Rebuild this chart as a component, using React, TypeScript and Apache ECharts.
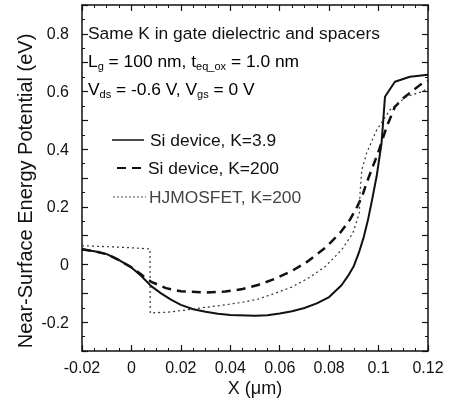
import React, { useEffect, useRef } from "react";
import * as echarts from "echarts";

const FONT = "'Liberation Sans', Arial, Helvetica, sans-serif";

// Si device, K=3.9 (solid)
const siK39: [number, number][] = [
  [-0.02, 0.053], [-0.015, 0.046], [-0.01, 0.036], [-0.005, 0.015], [0, -0.01],
  [0.004, -0.04], [0.008, -0.075], [0.012, -0.1], [0.016, -0.122], [0.02, -0.14],
  [0.025, -0.155], [0.03, -0.164], [0.035, -0.171], [0.04, -0.175], [0.05, -0.178],
  [0.055, -0.176], [0.06, -0.17], [0.065, -0.162], [0.07, -0.151], [0.075, -0.135],
  [0.08, -0.113], [0.085, -0.072], [0.088, -0.035], [0.09, -0.005], [0.092, 0.04],
  [0.094, 0.095], [0.0957, 0.154], [0.0975, 0.23], [0.0992, 0.305], [0.1012, 0.42],
  [0.1026, 0.582], [0.1066, 0.634], [0.1127, 0.651], [0.12, 0.658],
];

// Si device, K=200 (dashed)
const siK200: [number, number][] = [
  [-0.02, 0.053], [-0.015, 0.046], [-0.01, 0.036], [-0.005, 0.015], [0, -0.01],
  [0.004, -0.035], [0.008, -0.06], [0.014, -0.082], [0.02, -0.093], [0.03, -0.097],
  [0.038, -0.094], [0.045, -0.085], [0.0512, -0.071], [0.058, -0.05], [0.065, -0.022],
  [0.071, 0.009], [0.0783, 0.057], [0.0844, 0.109], [0.0884, 0.155], [0.0913, 0.2],
  [0.0933, 0.235], [0.0951, 0.282], [0.0998, 0.387], [0.1033, 0.478], [0.1066, 0.547],
  [0.1107, 0.582], [0.1168, 0.623], [0.12, 0.637],
];

// HJMOSFET, K=200 (dotted)
const hjmosfet: [number, number][] = [
  [-0.02, 0.065], [-0.01, 0.062], [0, 0.058], [0.0075, 0.054], [0.0076, -0.168],
  [0.015, -0.165], [0.02, -0.16], [0.0277, -0.151], [0.0379, -0.14], [0.045, -0.131],
  [0.0512, -0.12], [0.058, -0.1], [0.065, -0.078], [0.072, -0.045], [0.0783, -0.008],
  [0.085, 0.05], [0.0896, 0.109], [0.0922, 0.178], [0.0925, 0.248], [0.0932, 0.328],
  [0.0952, 0.387], [0.0992, 0.466], [0.1046, 0.536], [0.108, 0.56], [0.1113, 0.582],
  [0.1175, 0.599], [0.12, 0.612],
];

const seriesNames = ["Si device, K=3.9", "Si device, K=200", "HJMOSFET, K=200"];
const xTitle = "X (\u03bcm)";
const yTitle = "Near-Surface Energy Potential (eV)";

export default function App() {
  const ref = useRef<HTMLDivElement>(null);
  useEffect(() => {
    if (!ref.current) return;
    const chart = echarts.init(ref.current, null, { renderer: "svg" });
    const axisLine = { show: true, onZero: false, lineStyle: { color: "#111", width: 1.5 } };
    const tick = { show: true, inside: true, length: 6, lineStyle: { color: "#111", width: 1.2 } };
    const minorX = { show: true, splitNumber: 4, length: 3, lineStyle: { color: "#111", width: 1 } };
    const minorY = { show: true, splitNumber: 2, length: 3, lineStyle: { color: "#111", width: 1 } };
    const xBase = { type: "value", min: -0.02, max: 0.12, interval: 0.02, splitLine: { show: false } };
    const yBase = { type: "value", min: -0.3, max: 0.9, interval: 0.1, splitLine: { show: false } };
    const rich = {
      m: { fontSize: 17.4, lineHeight: 20, fontFamily: FONT, color: "#111" },
      s: { fontSize: 11, lineHeight: 2, verticalAlign: "bottom", fontFamily: FONT, color: "#111" },
    };
    const legendText = (x: number, y: number, t: string, color: string) => ({
      type: "text", x, y,
      style: { text: t, fontSize: 17.4, fontFamily: FONT, fill: color, verticalAlign: "middle" },
    });
    chart.setOption({
      animation: false,
      grid: { left: 82, right: 22, top: 5, bottom: 50 },
      xAxis: [
        {
          ...xBase, position: "bottom", axisLine, axisTick: tick, minorTick: minorX,
          axisLabel: {
            fontSize: 16, fontFamily: FONT, color: "#111", margin: 8,
            formatter: (v: number) => (Math.abs(v) < 1e-9 ? "0" : String(+v.toFixed(2))),
          },
        },
        { ...xBase, position: "top", axisLine, axisTick: tick, minorTick: minorX, axisLabel: { show: false } },
      ],
      yAxis: [
        {
          ...yBase, position: "left", axisLine, axisTick: tick, minorTick: minorY,
          axisLabel: {
            fontSize: 16, fontFamily: FONT, color: "#111", margin: 13,
            formatter: (v: number) => {
              const k = Math.round(v * 10);
              if (k % 2 !== 0) return "";
              return k === 0 ? "0" : String(k / 10);
            },
          },
        },
        { ...yBase, position: "right", axisLine, axisTick: tick, minorTick: minorY, axisLabel: { show: false } },
      ],
      series: [
        {
          name: seriesNames[0], type: "line", data: siK39, showSymbol: false,
          lineStyle: { color: "#111", width: 2 },
        },
        {
          name: seriesNames[1], type: "line", data: siK200, showSymbol: false,
          lineStyle: { color: "#111", width: 2.5, type: [9, 6] },
        },
        {
          name: seriesNames[2], type: "line", data: hjmosfet, showSymbol: false,
          lineStyle: { color: "#333", width: 1.2, type: [2, 3] },
        },
      ],
      graphic: [
        {
          type: "text", x: 88, y: 33,
          style: { text: "Same K in gate dielectric and spacers", fontSize: 17.4, fontFamily: FONT, fill: "#111", verticalAlign: "middle" },
        },
        {
          type: "text", x: 88, y: 61,
          style: { text: "{m|L}{s|g}{m| = 100 nm, t}{s|eq_ox}{m| = 1.0 nm}", rich, verticalAlign: "middle" },
        },
        {
          type: "text", x: 88, y: 89,
          style: { text: "{m|V}{s|ds}{m| = -0.6 V, V}{s|gs}{m| = 0 V}", rich, verticalAlign: "middle" },
        },
        { type: "line", shape: { x1: 112, y1: 140, x2: 144, y2: 140 }, style: { stroke: "#111", lineWidth: 1.5 } },
        legendText(150, 140, seriesNames[0], "#111"),
        { type: "line", shape: { x1: 117, y1: 168, x2: 141, y2: 168 }, style: { stroke: "#111", lineWidth: 2, lineDash: [9, 6] } },
        legendText(148, 168, seriesNames[1], "#111"),
        { type: "line", shape: { x1: 113, y1: 197, x2: 146, y2: 197 }, style: { stroke: "#444", lineWidth: 1, lineDash: [2, 2] } },
        legendText(149, 197, seriesNames[2], "#444"),
        {
          type: "text", x: 25, y: 191, rotation: Math.PI / 2,
          style: { text: yTitle, fontSize: 20, fontFamily: FONT, fill: "#111", align: "center", verticalAlign: "middle" },
        },
        {
          type: "text", x: 255, y: 388,
          style: { text: xTitle, fontSize: 18, fontFamily: FONT, fill: "#111", align: "center", verticalAlign: "middle" },
        },
      ],
    });
    return () => chart.dispose();
  }, []);
  return <div ref={ref} style={{ width: 450, height: 401, position: "fixed", left: 0, top: 0 }} />;
}
